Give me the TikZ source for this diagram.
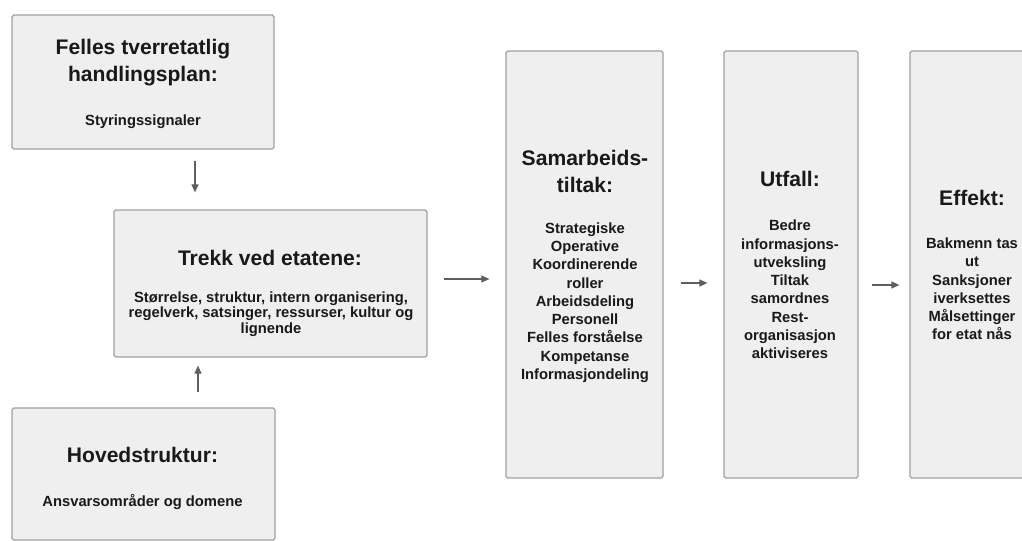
\documentclass[tikz,border=0pt]{standalone}
\usepackage{fontspec}
\setmainfont{Liberation Sans}
\usetikzlibrary{arrows.meta}
\definecolor{boksfyll}{RGB}{239,239,239}
\definecolor{bokskant}{RGB}{160,160,160}
\definecolor{pilfarge}{RGB}{95,95,95}
\definecolor{skrift}{RGB}{25,25,25}

\begin{document}
\begin{tikzpicture}[x=0.02cm, y=-0.02cm, text=skrift,
	boks/.style={draw=bokskant, fill=boksfyll, line width=0.7pt, rounded corners=1pt, inner sep=0pt},
	tittel/.style={align=center, inner sep=0pt, font=\fontsize{12}{15}\selectfont\bfseries},
	tekst/.style={align=center, inner sep=0pt, font=\fontsize{8.4}{10.4}\selectfont\bfseries},
	pil/.style={draw=pilfarge, line width=0.6pt, -{Triangle[length=1.6mm, width=1.4mm]}}]
	\useasboundingbox (0,0) rectangle (1022,541);
	% boksene
	\node[boks, minimum width=5.24cm, minimum height=2.68cm] (felles) at (143,82) {};
	\node[boks, minimum width=6.26cm, minimum height=2.94cm] (trekk) at (270.5,283.5) {};
	\node[boks, minimum width=5.26cm, minimum height=2.64cm] (hoved) at (143.5,474) {};
	\node[boks, minimum width=3.14cm, minimum height=8.54cm] (sam) at (584.5,264.5) {};
	\node[boks, minimum width=2.68cm, minimum height=8.54cm] (utfall) at (791,264.5) {};
	\node[boks, minimum width=2.48cm, minimum height=8.54cm] (effekt) at (972,264.5) {};
	% tekstene
	\node[tittel] (felles-tittel) at (143,62.5) {Felles tverretatlig\\handlingsplan:};
	\node[tekst] (felles-tekst) at (143,122) {Styringssignaler};
	\node[tittel] (trekk-tittel) at (270,258) {Trekk ved etatene:};
	\node[tekst, font=\fontsize{8.4}{8.8}\selectfont\bfseries] (trekk-tekst) at (271,314) {Størrelse, struktur, intern organisering,\\regelverk, satsinger, ressurser, kultur og\\lignende};
	\node[tittel] (hoved-tittel) at (142.5,455) {Hovedstruktur:};
	\node[tekst] (hoved-tekst) at (142.5,502) {Ansvarsområder og domene};
	\node[tittel] (sam-tittel) at (585,171.5) {Samarbeids-\\tiltak:};
	\node[tekst] (sam-tekst) at (585,302.5) {Strategiske\\Operative\\Koordinerende\\roller\\Arbeidsdeling\\Personell\\Felles forståelse\\Kompetanse\\Informasjondeling};
	\node[tittel] (utfall-tittel) at (790,179) {Utfall:};
	\node[tekst] (utfall-tekst) at (790,289.5) {Bedre\\informasjons-\\utveksling\\Tiltak\\samordnes\\Rest-\\organisasjon\\aktiviseres};
	\node[tittel] (effekt-tittel) at (972,198) {Effekt:};
	\node[tekst] (effekt-tekst) at (972,289) {Bakmenn tas\\ut\\Sanksjoner\\iverksettes\\Målsettinger\\for etat nås};
	% pilene
	\coordinate (pil1) at ([xshift=1.04cm]felles.south);
	\coordinate (pil2) at ([xshift=1.09cm]hoved.north);
	\coordinate (pil3) at ([yshift=0.09cm]trekk.east);
	\draw[pil, shorten <=0.22cm, shorten >=0.34cm] (pil1) -- (pil1 |- trekk.north);
	\draw[pil, shorten <=0.3cm, shorten >=0.16cm] (pil2) -- (pil2 |- trekk.south);
	\draw[pil, shorten <=0.32cm, shorten >=0.32cm] (pil3) -- (pil3 -| sam.west);
	\draw[pil, shorten <=0.34cm, shorten >=0.32cm] ([yshift=-0.37cm]sam.east) -- ([yshift=-0.37cm]utfall.west);
	\draw[pil, shorten <=0.26cm, shorten >=0.2cm] ([yshift=-0.41cm]utfall.east) -- ([yshift=-0.41cm]effekt.west);
\end{tikzpicture}
\end{document}
